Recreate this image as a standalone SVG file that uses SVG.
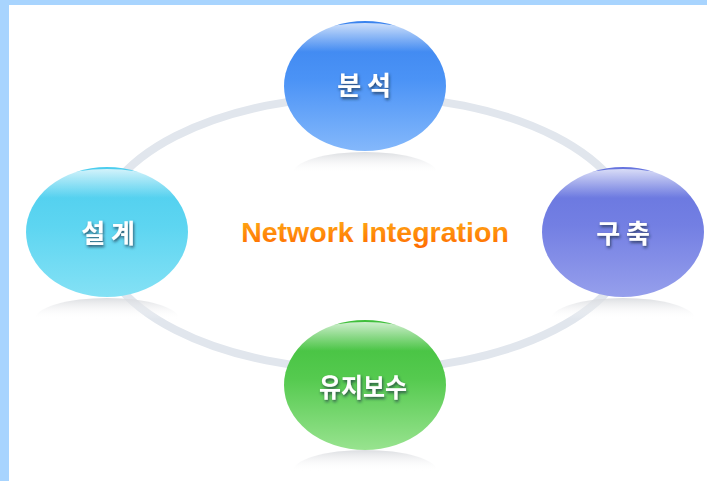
<svg xmlns="http://www.w3.org/2000/svg" width="707" height="481" viewBox="0 0 707 481">
  <defs>
    <linearGradient id="gBlue" x1="0" y1="0" x2="0" y2="1">
      <stop offset="0" stop-color="#3a83ee"/>
      <stop offset="0.45" stop-color="#4b93f6"/>
      <stop offset="1" stop-color="#84b8fb"/>
    </linearGradient>
    <linearGradient id="gPurple" x1="0" y1="0" x2="0" y2="1">
      <stop offset="0" stop-color="#6674de"/>
      <stop offset="0.45" stop-color="#737fe3"/>
      <stop offset="1" stop-color="#969fec"/>
    </linearGradient>
    <linearGradient id="gCyan" x1="0" y1="0" x2="0" y2="1">
      <stop offset="0" stop-color="#4ccdee"/>
      <stop offset="0.45" stop-color="#5dd5f1"/>
      <stop offset="1" stop-color="#84e1f5"/>
    </linearGradient>
    <linearGradient id="gGreen" x1="0" y1="0" x2="0" y2="1">
      <stop offset="0" stop-color="#3fbf3b"/>
      <stop offset="0.45" stop-color="#55ca4f"/>
      <stop offset="1" stop-color="#98e38f"/>
    </linearGradient>
    <linearGradient id="gHi" x1="0" y1="0" x2="0" y2="1">
      <stop offset="0" stop-color="#ffffff" stop-opacity="0.75"/>
      <stop offset="0.5" stop-color="#ffffff" stop-opacity="0"/>
    </linearGradient>
    <linearGradient id="gShade" x1="0" y1="0" x2="0" y2="1">
      <stop offset="0" stop-color="#d8dade" stop-opacity="0.9"/>
      <stop offset="1" stop-color="#ffffff" stop-opacity="0"/>
    </linearGradient>
    <linearGradient id="gOrange" x1="0" y1="0" x2="0" y2="1">
      <stop offset="0.2" stop-color="#ffa313"/>
      <stop offset="1" stop-color="#ff6a00"/>
    </linearGradient>
    <filter id="tshadow" x="-20%" y="-30%" width="140%" height="160%">
      <feGaussianBlur in="SourceAlpha" stdDeviation="1.6" result="b"/>
      <feOffset in="b" dx="1" dy="1.5" result="o"/>
      <feFlood flood-color="#1a2a40" flood-opacity="0.75"/>
      <feComposite in2="o" operator="in" result="s"/>
      <feMerge>
        <feMergeNode in="s"/>
        <feMergeNode in="SourceGraphic"/>
      </feMerge>
    </filter>
  </defs>
  <style>
    .label { font-family: "Noto Sans CJK KR", "Noto Sans", sans-serif; font-weight: bold; font-size: 26px; fill: #ffffff; text-anchor: middle; }
    .hi { fill: url(#gHi); }
    .shade { fill: url(#gShade); }
    .title { font-family: "Liberation Sans", Arial, sans-serif; font-weight: bold; font-size: 28.5px; fill: url(#gOrange); text-anchor: middle; }
  </style>

  <rect x="0" y="0" width="707" height="481" fill="#ffffff"/>
  <rect x="0" y="0" width="707" height="5" fill="#a8d4fe"/>
  <rect x="0" y="0" width="9" height="481" fill="#a8d4fe"/>

  <g id="connectors">
    <ellipse cx="365" cy="233" rx="268" ry="137" fill="none" stroke="#e1e6ed" stroke-width="8"/>
  </g>

  <g id="reflections">
    <path class="shade" d="M293,173 A72,21 0 0 1 437,173 Z"/>
    <path class="shade" d="M35,319 A72,21 0 0 1 179,319 Z"/>
    <path class="shade" d="M551,319 A72,21 0 0 1 695,319 Z"/>
    <path class="shade" d="M293,471 A72,21 0 0 1 437,471 Z"/>
  </g>

  <g id="node-analysis">
    <ellipse cx="365" cy="86" rx="81" ry="65" fill="url(#gBlue)"/>
    <ellipse class="hi" cx="365" cy="52" rx="74" ry="29"/>
    <text class="label" x="364" y="95" filter="url(#tshadow)">분 석</text>
  </g>

  <g id="node-design">
    <ellipse cx="107" cy="232" rx="81" ry="65" fill="url(#gCyan)"/>
    <ellipse class="hi" cx="107" cy="198" rx="74" ry="29"/>
    <text class="label" x="108" y="243" filter="url(#tshadow)">설 계</text>
  </g>

  <g id="node-build">
    <ellipse cx="623" cy="232" rx="81" ry="65" fill="url(#gPurple)"/>
    <ellipse class="hi" cx="623" cy="198" rx="74" ry="29"/>
    <text class="label" x="623" y="243" filter="url(#tshadow)">구 축</text>
  </g>

  <g id="node-maintenance">
    <ellipse cx="365" cy="385" rx="81" ry="65" fill="url(#gGreen)"/>
    <ellipse class="hi" cx="365" cy="351" rx="74" ry="29"/>
    <text class="label" x="363" y="397" textLength="88" lengthAdjust="spacingAndGlyphs" filter="url(#tshadow)">유지보수</text>
  </g>

  <g id="center-title">
    <text class="title" x="375" y="242">Network Integration</text>
  </g>
</svg>
